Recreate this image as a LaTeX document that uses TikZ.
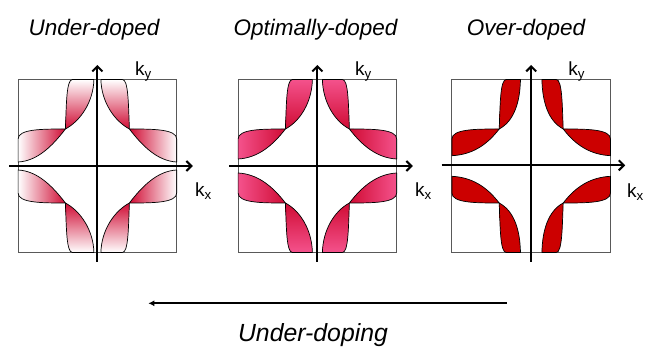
\documentclass[tikz,border=0pt]{standalone}
\usepackage{fontspec}
\setmainfont{Liberation Sans}
\usepackage{xcolor}
\usepackage{tikz}
\usetikzlibrary{arrows.meta}

\definecolor{nodered}{RGB}{208,12,52}
\definecolor{optpink}{RGB}{244,82,140}
\definecolor{overred}{RGB}{204,0,0}

% one quadrant: #1,#2 signs, #3 inner gap at top, #4 inner gap at side,
% #5 colour at the ends, #6 colour at the node
\newcommand{\fsquad}[6]{%
  \begin{scope}
    \ifnum#2>0 \tikzset{vshade/.style={top color=#5, bottom color=#6}}%
    \else \tikzset{vshade/.style={top color=#6, bottom color=#5}}\fi
    \ifnum#1>0 \tikzset{hshade/.style={left color=#6, right color=#5}}%
    \else \tikzset{hshade/.style={left color=#5, right color=#6}}\fi
    \path[lobe, vshade] ({#1*32},{#2*(-37)})
      .. controls ({#1*31},{#2*(-62)}) and ({#1*31},{#2*(-86.5)}) .. ({#1*25},{#2*(-86.5)})
      -- ({#1*#3},{#2*(-86.5)})
      .. controls ({#1*(#3+0.5)},{#2*(-64)}) and ({#1*17},{#2*(-45)}) .. ({#1*32},{#2*(-37)})
      -- cycle;
    \path[lobe, hshade] ({#1*32},{#2*(-37)})
      .. controls ({#1*55},{#2*(-37)}) and ({#1*79.3},{#2*(-37)}) .. ({#1*79.3},{#2*(-27)})
      -- ({#1*79.3},{#2*(-#4)})
      .. controls ({#1*60},{#2*(-#4-1)}) and ({#1*45},{#2*(-20)}) .. ({#1*32},{#2*(-37)})
      -- cycle;
  \end{scope}}
\newcommand{\fsquads}[4]{%
  \fsquad{1}{1}{#1}{#2}{#3}{#4}\fsquad{-1}{1}{#1}{#2}{#3}{#4}%
  \fsquad{1}{-1}{#1}{#2}{#3}{#4}\fsquad{-1}{-1}{#1}{#2}{#3}{#4}}

\begin{document}
\begin{tikzpicture}[
  x=1pt, y=-1pt,
  title/.style={font=\fontsize{22.5}{27}\selectfont\itshape, anchor=base},
  klabel/.style={font=\fontsize{19}{22}\selectfont, anchor=base west, inner sep=0pt},
  caption/.style={font=\fontsize{24.8}{30}\selectfont\itshape, anchor=base},
  frame/.style={draw=black!65, line width=1pt},
  lobe/.style={draw=black, line width=0.7pt, line join=round},
  axis/.style={line width=2pt, -{Straight Barb[length=5pt,width=10pt]}},
  dope/.style={line width=2pt, -{Latex[length=6pt,width=6pt]}}
]
\useasboundingbox (0,0) rectangle (654,363);

% titles
\node[title] (under) at (94,35.7) {Under-doped};
\node[title] (optimal) at (315.5,35.7) {Optimally-doped};
\node[title] (over) at (526,35.7) {Over-doped};

% under-doped
\begin{scope}[shift={(97.4,166)}]
  \draw[frame] (-79.3,-86.5) rectangle (79.3,86.5);
  \fsquads{3.5}{4}{white}{nodered}
  \coordinate (U-left) at (-88,0);
  \coordinate (U-right) at (95.4,0);
  \coordinate (U-bottom) at (0,95.7);
  \coordinate (U-top) at (0,-101);
  \draw[axis] (U-left) -- (U-right);
  \draw[axis] (U-bottom) -- (U-top);
  \node[klabel] (U-ky) at (37.6,-90.3) {k\textsubscript{y}};
  \node[klabel] (U-kx) at (97.6,30.8) {k\textsubscript{x}};
\end{scope}

% optimally-doped
\begin{scope}[shift={(317.4,166)}]
  \draw[frame] (-79.3,-86.5) rectangle (79.3,86.5);
  \fsquads{5}{7}{optpink}{nodered}
  \coordinate (O-left) at (-88,0);
  \coordinate (O-right) at (95.4,0);
  \coordinate (O-bottom) at (0,95.7);
  \coordinate (O-top) at (0,-101);
  \draw[axis] (O-left) -- (O-right);
  \draw[axis] (O-bottom) -- (O-top);
  \node[klabel] (O-ky) at (37.6,-90.3) {k\textsubscript{y}};
  \node[klabel] (O-kx) at (97.6,30.8) {k\textsubscript{x}};
\end{scope}

% over-doped
\begin{scope}[shift={(531.2,166)}]
  \draw[frame] (-79.3,-86.5) rectangle (79.3,86.5);
  \fsquads{10.7}{10.3}{overred}{overred}
  \coordinate (V-left) at (-89.5,-0.7);
  \coordinate (V-right) at (94,-0.7);
  \coordinate (V-bottom) at (0,95.7);
  \coordinate (V-top) at (0,-101);
  \draw[axis] (V-left) -- (V-right);
  \draw[axis] (V-bottom) -- (V-top);
  \node[klabel] (V-ky) at (37,-90.3) {k\textsubscript{y}};
  \node[klabel] (V-kx) at (95.6,31.5) {k\textsubscript{x}};
\end{scope}

% doping direction
\coordinate (dope-start) at (506.7,303.3);
\coordinate (dope-end) at (148.3,303.3);
\draw[dope] (dope-start) -- (dope-end);
\node[caption] (dope-label) at (313,341.7) {Under-doping};
\end{tikzpicture}
\end{document}
